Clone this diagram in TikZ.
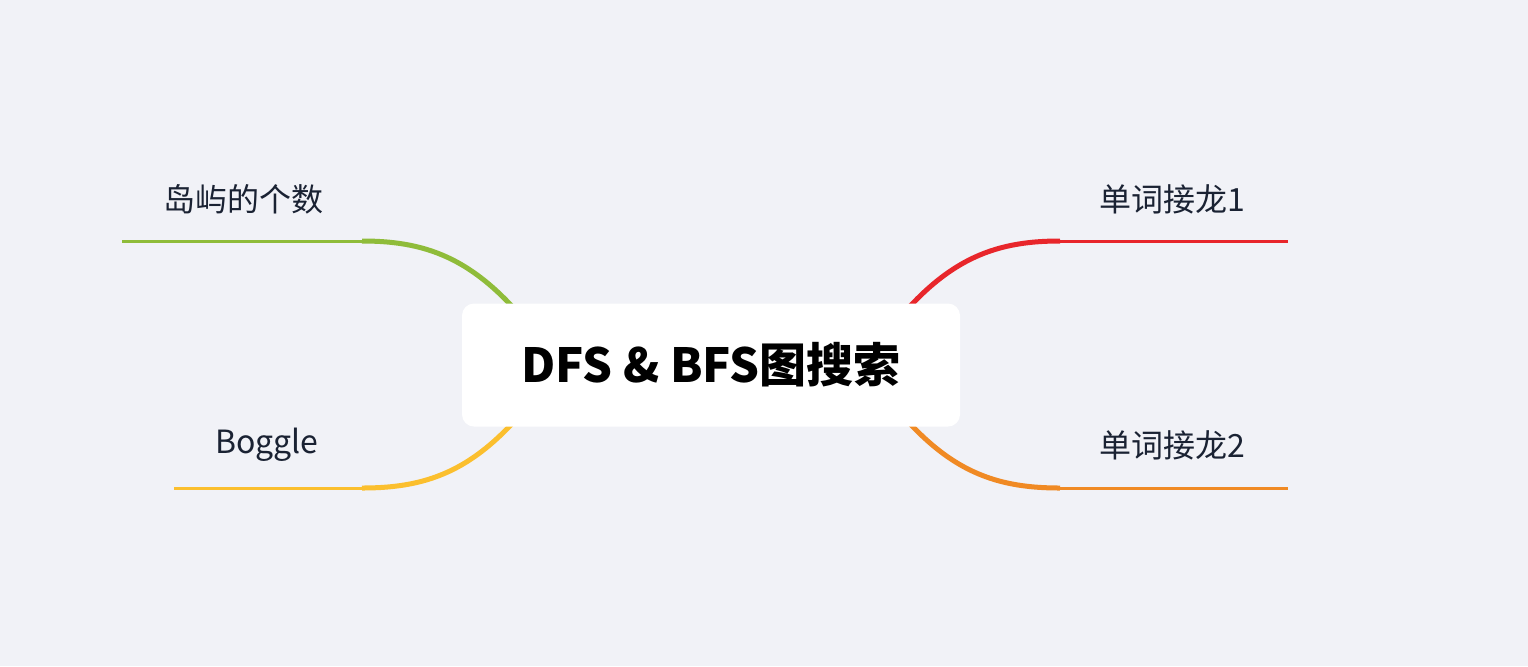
\documentclass[tikz,border=0pt]{standalone}
\usepackage{fontspec}
\setmainfont{Noto Sans CJK SC}
\definecolor{bgcol}{HTML}{F1F2F7}
\definecolor{txtcol}{HTML}{1A2233}
\definecolor{cgreen}{HTML}{8FBC3A}
\definecolor{cyellow}{HTML}{FBBF2E}
\definecolor{cred}{HTML}{E8262B}
\definecolor{corange}{HTML}{F08A24}
\begin{document}
\begin{tikzpicture}[x=0.5pt,y=-0.5pt]
    \tikzstyle{topic}=[font=\fontsize{16}{18}\selectfont, text=txtcol];
    \tikzstyle{branch}=[line width=2.5pt];
    \tikzstyle{stem}=[line width=1.5pt];

    \fill [bgcol] (0,0) rectangle (1528,666);
    \useasboundingbox (0,0) rectangle (1528,666);

    % branch ends
    \coordinate (gA) at (362,241);  \coordinate (gB) at (122,241);
    \coordinate (yA) at (362,488);  \coordinate (yB) at (174,488);
    \coordinate (rA) at (1060,241); \coordinate (rB) at (1288,241);
    \coordinate (oA) at (1060,488); \coordinate (oB) at (1288,488);

    \draw [branch, cgreen] (540,340) .. controls (480,260) and (430,241) .. (gA);
    \draw [stem, cgreen] (gA) -- (gB);
    \draw [branch, cyellow] (540,390) .. controls (480,470) and (430,488) .. (yA);
    \draw [stem, cyellow] (yA) -- (yB);
    \draw [branch, cred] (882,340) .. controls (942,260) and (992,241) .. (rA);
    \draw [stem, cred] (rA) -- (rB);
    \draw [branch, corange] (882,390) .. controls (942,470) and (992,488) .. (oA);
    \draw [stem, corange] (oA) -- (oB);

    \node [fill=white, rounded corners=6pt, minimum width=249pt, minimum height=61.5pt,
           font=\fontsize{23.5}{26}\selectfont\bfseries] (root) at (711,365) {DFS \& BFS图搜索};

    \node [topic] (island) at (243,199) {岛屿的个数};
    \node [topic] (boggle) at (267,445) {Boggle};
    \node [topic] (word1) at (1172,199) {单词接龙1};
    \node [topic] (word2) at (1172,445) {单词接龙2};
\end{tikzpicture}
\end{document}
